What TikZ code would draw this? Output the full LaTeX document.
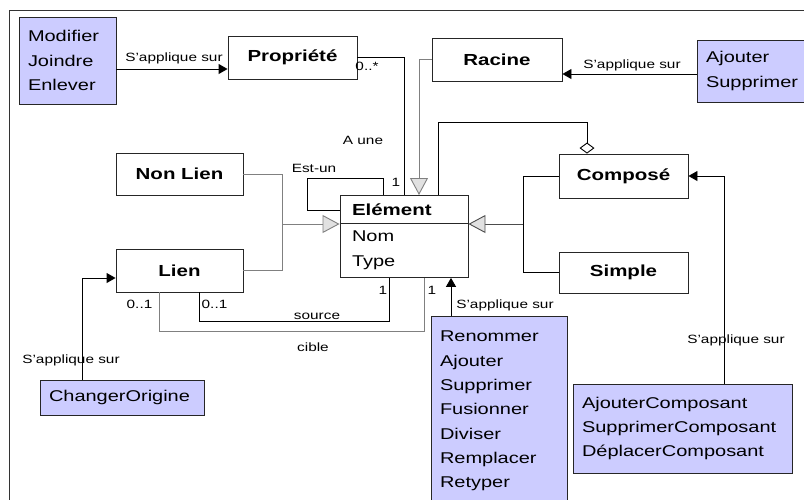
\documentclass[tikz,border=0pt]{standalone}
\usepackage{fontspec}
\setmainfont{Liberation Sans}[FakeStretch=1.28]
\usepackage{tikz}
\usetikzlibrary{shapes.multipart,arrows.meta}
\definecolor{opblue}{RGB}{204,204,255}
\definecolor{linegray}{RGB}{128,128,128}
\definecolor{headgray}{RGB}{225,225,225}

\begin{document}
\begin{tikzpicture}[x=1pt,y=-1pt,line width=0.9pt,
    classbox/.style={rectangle,draw=black!85,minimum width=129pt,inner sep=0pt,font=\fontsize{16}{19}\selectfont\bfseries},
    opbox/.style={rectangle,draw=black!85,fill=opblue,align=left,inner xsep=9pt,inner ysep=0pt,font=\fontsize{15.6}{24.3}\selectfont},
    applies/.style={-{Triangle[length=9pt,width=10pt]},black},
    isa/.style={-{Triangle[length=17pt,width=18pt,fill=headgray]},draw=linegray},
    lbl/.style={inner sep=0pt,anchor=base,font=\fontsize{12}{14}\selectfont}]
    \useasboundingbox (0,0) rectangle (804,499);
    \clip (0,0) rectangle (804,499);

    % Frame
    \draw[black!80] (9,10) rectangle (830,530);

    % Classes
    \node[classbox,minimum height=43pt] (prop) at (292.5,57.5) {Propriété};
    \node[classbox,minimum width=130pt,minimum height=43pt] (racine) at (497,59.5) {Racine};
    \node[classbox,minimum width=127pt,minimum height=42pt] (nonlien) at (179.5,174) {Non Lien};
    \node[classbox,minimum width=127pt,minimum height=43pt] (lien) at (179.5,270.5) {Lien};
    \node[classbox,minimum height=44pt] (compose) at (623.5,176) {Composé};
    \node[classbox,minimum height=41pt] (simple) at (623.5,272.5) {Simple};
    \node[rectangle split,rectangle split parts=2,draw=black!85,anchor=north,
          text width=104pt,inner xsep=12pt,inner ysep=7.5pt,align=left,
          font=\fontsize{15.6}{24.3}\selectfont] (elem) at (404,195)
        {\textbf{\fontsize{16}{19}\selectfont Elément}\nodepart{two}Nom\\Type};

    % Operations
    \node[opbox,text width=79pt,minimum height=87pt] (modif) at (67.5,60.5) {Modifier\\Joindre\\Enlever};
    \node[opbox,text width=102pt,minimum height=62pt] (ajsup) at (757,71) {Ajouter\\Supprimer};
    \node[opbox,text width=146pt,minimum height=35pt] (chorig) at (122,397.5) {ChangerOrigine};
    \node[opbox,text width=118pt,minimum height=190pt] (ops) at (499,411)
        {Renommer\\Ajouter\\Supprimer\\Fusionner\\Diviser\\Remplacer\\Retyper};
    \node[opbox,text width=201pt,minimum height=89pt] (ajcomp) at (682.5,428.5)
        {AjouterComposant\\SupprimerComposant\\DéplacerComposant};

    % S'applique sur
    \draw[applies] ([yshift=-8.5pt]modif.east) coordinate (m1) -- (m1 -| prop.west);
    \draw[applies] ([yshift=-3pt]ajsup.west) coordinate (a1) -- (a1 -| racine.east);
    \draw[applies] ([xshift=-40pt]chorig.north) |- ([yshift=-7.5pt]lien.west);
    \draw[applies] ([xshift=-48pt]ops.north) coordinate (o1) -- (o1 |- elem.south);
    \draw[applies] ([xshift=41.5pt]ajcomp.north) |- (compose.east);

    % Associations
    \draw (prop.east) -| (elem.north);
    \draw ([yshift=-15pt]elem.north west) -- ++(-32,0) -- ++(0,-32) -| ([xshift=-21pt]elem.north);
    \draw ([xshift=19.5pt]lien.south) -- ++(0,29) -| ([xshift=-15pt]elem.south);
    \draw[linegray] ([xshift=-20.5pt]lien.south) -- ++(0,39) -| ([xshift=20pt]elem.south);
    \draw[{Diamond[length=11pt,width=15pt,fill=white]}-] ([xshift=-36.5pt]compose.north)
        -- ++(0,-31) -| ([xshift=34pt]elem.north);

    % Generalisations
    \draw[isa] (racine.west) -| ([xshift=15pt]elem.north);
    \path ([yshift=-29pt]elem.north west) ++(-57,0) coordinate (jl);
    \path ([yshift=-29pt]elem.north east) ++(55,0) coordinate (jr);
    \draw[linegray] (nonlien.east) -| (jl) |- (lien.east);
    \draw[isa] (jl) -- ([yshift=-29pt]elem.north west);
    \draw (compose.west) -| (jr) |- (simple.west);
    \draw[isa,draw=black!70] (jr) -- ([yshift=-29pt]elem.north east);

    % Labels
    \node[lbl] (s1) at (174,61) {S'applique sur};
    \node[lbl] (s2) at (632,68) {S'applique sur};
    \node[lbl] (s3) at (505,308) {S'applique sur};
    \node[lbl] (s4) at (736,343) {S'applique sur};
    \node[lbl] (s5) at (71,363) {S'applique sur};
    \node[lbl] (mprop) at (367,70) {0..*};
    \node[lbl] (aune) at (363,144) {A une};
    \node[lbl] (estun) at (314,172.5) {Est-un};
    \node[lbl] (mune) at (396,186) {1};
    \node[lbl] (mcib1) at (139.5,308) {0..1};
    \node[lbl] (msrc1) at (214.5,308) {0..1};
    \node[lbl] (msrc2) at (383,294) {1};
    \node[lbl] (mcib2) at (432,294) {1};
    \node[lbl] (src) at (317,319) {source};
    \node[lbl] (cib) at (313,351) {cible};
\end{tikzpicture}
\end{document}
